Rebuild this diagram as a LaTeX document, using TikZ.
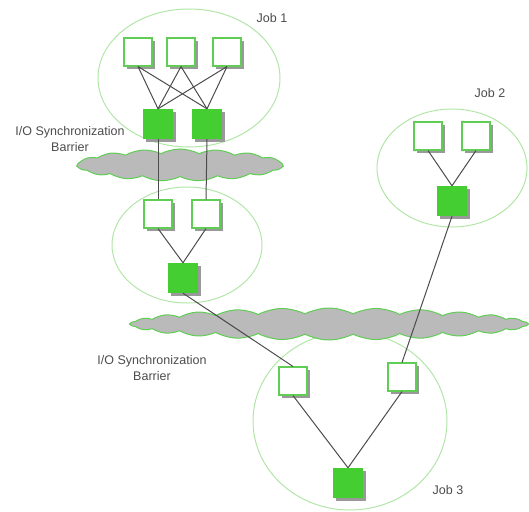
\documentclass[tikz,border=0pt]{standalone}
\usepackage{fontspec}
\setmainfont{Liberation Sans}
\usetikzlibrary{shapes,shadows}
\usepackage{xcolor}
\definecolor{syncgreen}{RGB}{68,206,50}
\definecolor{edgegreen}{RGB}{96,206,84}
\definecolor{ringgreen}{RGB}{178,230,168}
\definecolor{cloudgrey}{RGB}{186,186,186}

\begin{document}
\begin{tikzpicture}[x=1pt, y=-1pt,
    shade/.style={preaction={fill=black!40, transform canvas={shift={(3pt,-3pt)}}}},
    task/.style={rectangle, draw=edgegreen, line width=1.1pt, fill=white, minimum size=28pt, inner sep=0pt, shade},
    sync/.style={rectangle, fill=syncgreen, minimum size=30pt, inner sep=0pt, shade},
    job/.style={ellipse, draw=ringgreen, line width=1pt, inner sep=0pt},
    barrier/.style={cloud, draw=edgegreen, line width=1pt, fill=cloudgrey, inner sep=0pt, cloud puff arc=55},
    link/.style={draw=black!70, line width=1pt},
    lbl/.style={text=black!70, font=\fontsize{12.5}{15.5}\selectfont, align=center}]
    \useasboundingbox (0,0) rectangle (529,511);
    % job boundaries
    \node [job, minimum width=182pt, minimum height=138pt] (job1) at (189,78) {};
    \node [job, minimum width=150pt, minimum height=116pt] (job1b) at (187,245) {};
    \node [job, minimum width=150pt, minimum height=118pt] (job2) at (452,168) {};
    \node [job, minimum width=194pt, minimum height=178pt] (job3) at (350,421) {};
    % barriers
    \node [barrier, cloud puffs=17, aspect=6, minimum width=205pt, minimum height=32pt] (bar1) at (180,165) {};
    \node [barrier, cloud puffs=26, aspect=12, minimum width=397pt, minimum height=32pt] (bar2) at (329,324) {};
    % tasks
    \node [task] (a1) at (138,52) {};
    \node [task] (a2) at (181,52) {};
    \node [task] (a3) at (227,52) {};
    \node [sync] (s1) at (158,124) {};
    \node [sync] (s2) at (207,124) {};
    \node [task] (b1) at (158,214) {};
    \node [task] (b2) at (206,214) {};
    \node [sync] (s3) at (183,278) {};
    \node [task] (c1) at (428,136) {};
    \node [task] (c2) at (476,136) {};
    \node [sync] (s4) at (452,201) {};
    \node [task] (d1) at (293,381) {};
    \node [task] (d2) at (402,377) {};
    \node [sync] (s5) at (348,483) {};
    % links
    \foreach \t in {a1,a2,a3} {
      \draw [link] (\t.south) -- (s1.north);
      \draw [link] (\t.south) -- (s2.north);
    }
    \draw [link] (s1.south) -- (b1.north);
    \draw [link] (s2.south) -- (b2.north);
    \draw [link] (b1.south) -- (s3.north);
    \draw [link] (b2.south) -- (s3.north);
    \draw [link] (c1.south) -- (s4.north);
    \draw [link] (c2.south) -- (s4.north);
    \draw [link] (s3.south) -- (d1.north);
    \draw [link] (s4.south) -- (d2.north);
    \draw [link] (d1.south) -- (s5.north);
    \draw [link] (d2.south) -- (s5.north);
    % labels
    \node [lbl] (lab1) at (272,18) {Job 1};
    \node [lbl] (lab2) at (490,93) {Job 2};
    \node [lbl] (lab3) at (448,490) {Job 3};
    \node [lbl] (bl1) at (70,139) {I/O Synchronization\\Barrier};
    \node [lbl] (bl2) at (152,368) {I/O Synchronization\\Barrier};
\end{tikzpicture}
\end{document}
